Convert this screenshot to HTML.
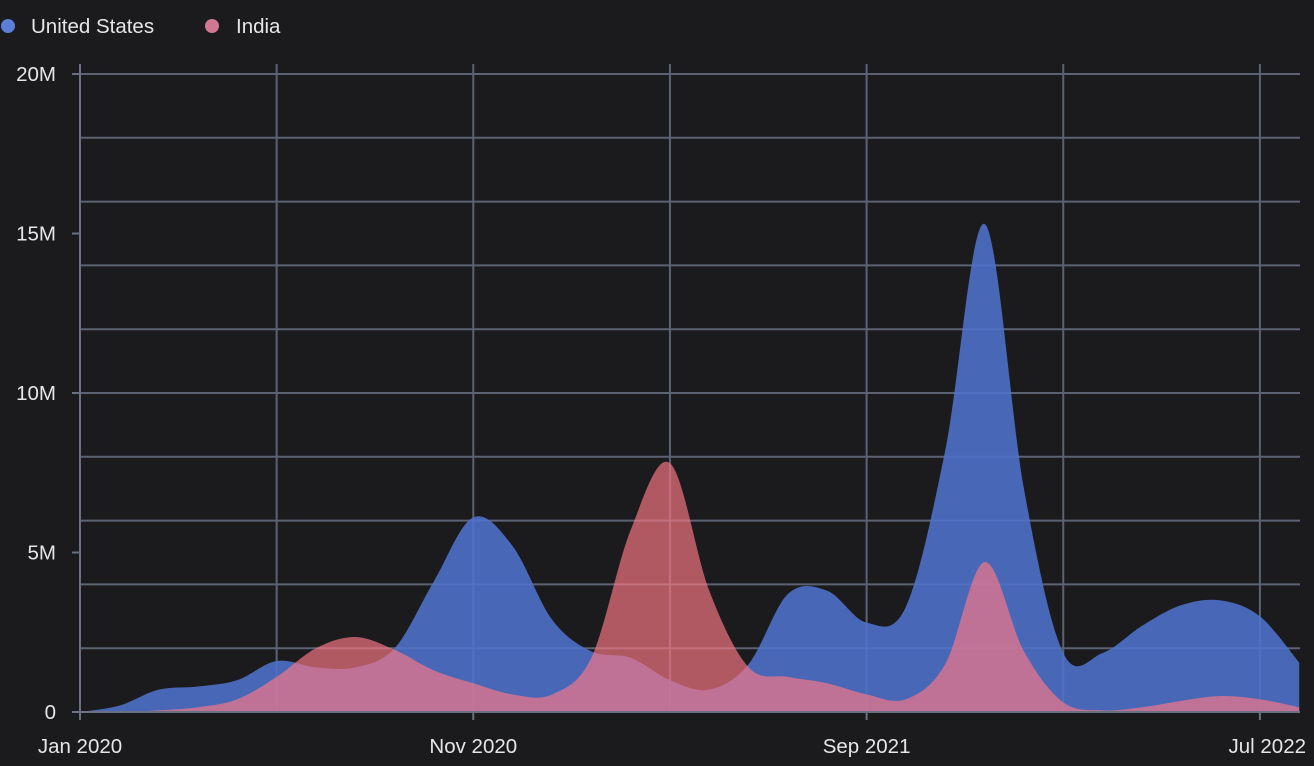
<!DOCTYPE html>
<html><head><meta charset="utf-8"><style>
html,body{margin:0;padding:0;background:#1b1b1e;}
svg{display:block;font-family:"Liberation Sans",sans-serif;}
</style></head><body>
<svg id="chart" width="1314" height="766">
<rect width="1314" height="766" fill="#1b1b1e"/>
<g>
<g><circle cx="8" cy="26" r="7" fill="#5b7fd6"/><text x="31" y="33" fill="#e6e6e6" font-size="20.5">United States</text></g>
<g><circle cx="212" cy="26" r="7" fill="#d07892"/><text x="236" y="33" fill="#e6e6e6" font-size="20.5">India</text></g>
</g>
<g id="grid"></g>
<g id="areas"></g>
<g id="axes"></g>
</svg>
<script>
const months = 32; // Jan 2020 .. Aug 2022
const usValues = [0,0.2,0.7,0.8,1.0,1.6,1.4,1.4,2.0,4.1,6.1,5.2,2.9,1.9,1.7,1.0,0.7,1.5,3.7,3.8,2.8,3.3,8.2,15.3,7.0,1.85,1.85,2.7,3.35,3.5,3.0,1.55];
const indiaValues = [0,0,0.05,0.15,0.4,1.1,2.0,2.35,1.95,1.3,0.9,0.55,0.55,1.7,5.7,7.8,3.8,1.4,1.1,0.9,0.55,0.4,1.5,4.7,1.9,0.3,0.05,0.15,0.35,0.5,0.4,0.15];
const yTicks = [0,5,10,15,20];
const yTickLabels = ["0","5M","10M","15M","20M"];
const xTickMonths = [0,10,20,30];
const xTickLabels = ["Jan 2020","Nov 2020","Sep 2021","Jul 2022"];

const X0=80, XSTEP=39.33, Y0=712, YMAX=20, YTOP=74;
const x = m => X0 + m*XSTEP;
const y = v => Y0 - (v/YMAX)*(Y0-YTOP);
const NS="http://www.w3.org/2000/svg";
function mk(tag, attrs, parent){const e=document.createElementNS(NS,tag);for(const k in attrs)e.setAttribute(k,attrs[k]);parent.appendChild(e);return e;}

const grid=document.getElementById('grid');
for(let v=0; v<=YMAX; v+=2){
  const l=mk('line',{x1:X0,x2:1300,y1:y(v),y2:y(v),stroke:'#5c6274','stroke-width':2},grid);
  
  
}
for(let m=0; m<months; m+=5){
  const l=mk('line',{x1:x(m),x2:x(m),y1:64,y2:712,stroke:'#5c6274','stroke-width':2},grid);
  
  
}

function pathFor(vals){
  const pts=vals.map((v,i)=>[x(i),y(v)]);
  let d=`M${x(0)},${Y0} L${pts[0][0]},${pts[0][1]}`;
  for(let i=0;i<pts.length-1;i++){
    const p0=pts[Math.max(0,i-1)],p1=pts[i],p2=pts[i+1],p3=pts[Math.min(pts.length-1,i+2)];
    const t=1/6;
    let c1y=p1[1]+(p2[1]-p0[1])*t, c2y=p2[1]-(p3[1]-p1[1])*t;
    c1y=Math.min(c1y,Y0); c2y=Math.min(c2y,Y0);
    d+=` C${p1[0]+(p2[0]-p0[0])*t},${c1y} ${p2[0]-(p3[0]-p1[0])*t},${c2y} ${p2[0]},${p2[1]}`;
  }
  d+=` L${pts[pts.length-1][0]},${Y0} Z`;
  return d;
}
const areas=document.getElementById('areas');
const us=mk('path',{d:pathFor(usValues),fill:'rgb(78,114,204)','fill-opacity':0.88},areas);


const ind=mk('path',{d:pathFor(indiaValues),fill:'rgb(248,120,132)','fill-opacity':0.68},areas);



const axes=document.getElementById('axes');
const ya=mk('line',{x1:X0,x2:X0,y1:64,y2:720,stroke:'#6a7080','stroke-width':2},axes);


const xa=mk('line',{x1:72,x2:1300,y1:Y0,y2:Y0,stroke:'#6a7080','stroke-width':2},axes);


yTicks.forEach((v,i)=>{
  const tk=mk('line',{x1:72,x2:X0,y1:y(v),y2:y(v),stroke:'#6a7080','stroke-width':2},axes);
  
  
  const t=mk('text',{x:56,y:y(v)+7,'text-anchor':'end',fill:'#e6e6e6','font-size':20.5},axes);
  t.textContent=yTickLabels[i];
  
  
});
xTickMonths.forEach((m,i)=>{
  const tk=mk('line',{x1:x(m),x2:x(m),y1:Y0,y2:720,stroke:'#6a7080','stroke-width':2},axes);
  
  
  const last=i===xTickMonths.length-1;
  const t=mk('text',{x:last?1306:x(m),y:753,'text-anchor':last?'end':'middle',fill:'#e6e6e6','font-size':20.5},axes);
  t.textContent=xTickLabels[i];
  
  
});
</script>
</body></html>
